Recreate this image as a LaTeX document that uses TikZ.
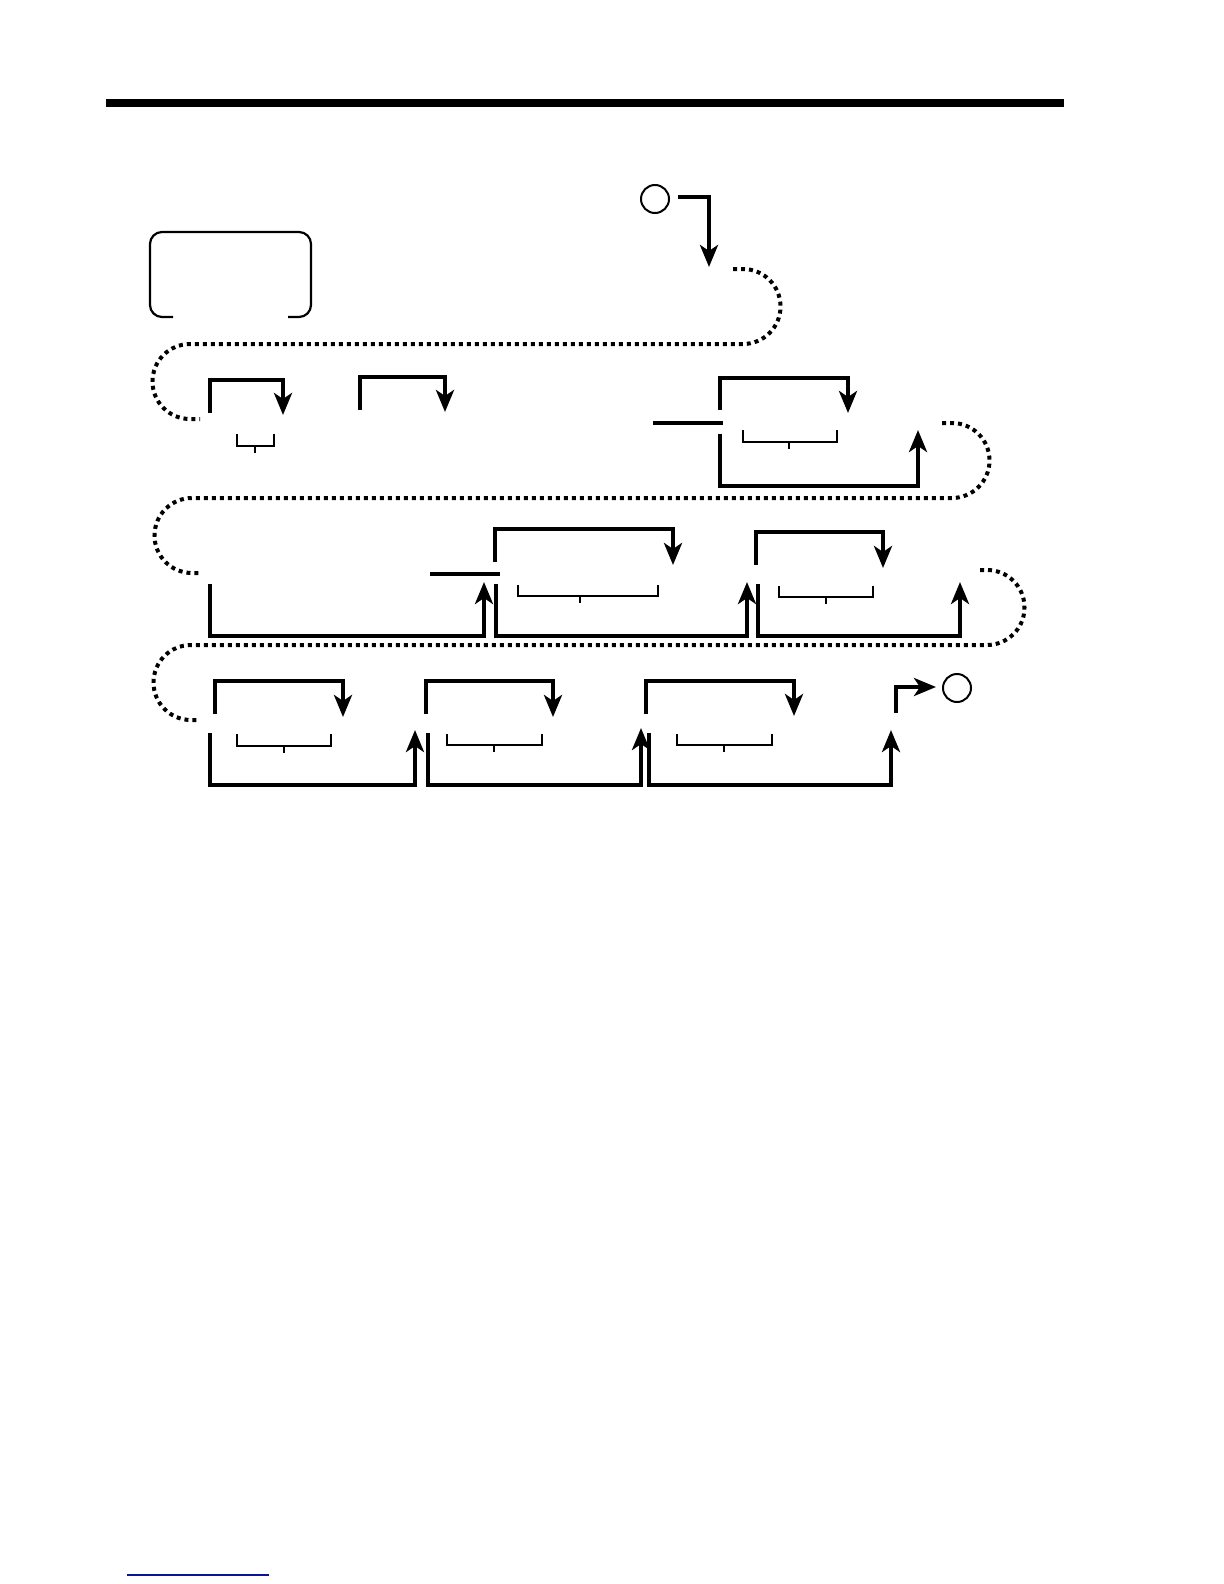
\documentclass[tikz,border=0pt]{standalone}
\usetikzlibrary{arrows.meta}
\definecolor{navyline}{RGB}{10,20,150}
\tikzset{
  flow/.style={line width=2pt,-{Stealth[length=11pt,width=9pt,inset=3pt]}},
  plainflow/.style={line width=2pt},
  railgap/.style={line width=2pt,dash pattern=on 2pt off 2pt},
  bracketline/.style={line width=0.8pt},
  terminal/.style={circle,draw,line width=1pt,minimum size=14pt,inner sep=0pt},
}
\newcommand{\brk}[5]{% x1, x2, top, bottom, tick-x ; tick to bottom+7
  \draw[bracketline] (#1,#3) -- (#1,#4) -- (#2,#4) -- (#2,#3);
  \draw[bracketline] (#5,#4) -- (#5,#4+7);
}
\begin{document}
\begin{tikzpicture}[x=0.5pt,y=-0.5pt]
\useasboundingbox (0,0) rectangle (1224,1584);
% header bar
\draw[line width=4pt] (106,103) coordinate (barL) -- (1064,103) coordinate (barR);
% footer line
\draw[navyline,line width=0.7pt] (127,1575) coordinate (footL) -- (269,1575) coordinate (footR);
% rounded box (open at the bottom)
\draw[line width=1.1pt,rounded corners=6pt] (173,317) -- (150,317) -- (150,232) -- (311,232) -- (311,317) -- (288,317);
% entry
\node[terminal] (start) at (655,199) {};
\coordinate (entryEnd) at (709,267);
\draw[flow] ([xshift=4pt,yshift=1pt]start.east) -| (entryEnd);
% dotted continuations
\draw[railgap] (733,269) -- (743,269) arc(90:-90:18.75pt) -- (190,344) arc(90:270:18.75pt) -- (200,419);
\draw[railgap] (942,423) -- (952,423) arc(90:-90:18.75pt) -- (192,498) arc(90:270:18.75pt) -- (200,573);
\draw[railgap] (980,570) -- (987,570) arc(90:-90:18.75pt) -- (191,645) arc(90:270:18.75pt) -- (198,720);
% ---- row 1
\draw[flow] (210,413) coordinate (r1a) |- (283,380) -- (283,415);
\brk{237}{274}{434}{446}{255}
\draw[flow] (360,410) coordinate (r1b) |- (445,377) -- (445,412);
\draw[plainflow] (653,423) coordinate (s1L) -- (723,423) coordinate (s1R);
\draw[flow] (720,410) coordinate (r1c) |- (848,378) -- (848,413);
\brk{743}{837}{430}{442}{789}
\draw[flow] (720,434) coordinate (r1d) |- (918,486) -- (918,430);
% ---- row 2
\draw[flow] (210,584) coordinate (r2a) |- (484,636) -- (484,582);
\draw[plainflow] (430,574) coordinate (s2L) -- (500,574) coordinate (s2R);
\draw[flow] (495,562) coordinate (r2b) |- (673,529) -- (673,565);
\brk{518}{658}{585}{596}{580}
\draw[flow] (496,584) coordinate (r2c) |- (747,636) -- (747,582);
\draw[flow] (756,565) coordinate (r2d) |- (883,532) -- (883,568);
\brk{779}{873}{586}{597}{826}
\draw[flow] (758,584) coordinate (r2e) |- (960,636) -- (960,582);
% ---- row 3
\draw[flow] (215,714) coordinate (r3a) |- (343,681) -- (343,717);
\brk{237}{331}{734}{746}{284}
\draw[flow] (210,733) coordinate (r3b) |- (415,785) -- (415,730);
\draw[flow] (426,714) coordinate (r3c) |- (553,681) -- (553,717);
\brk{447}{542}{734}{745}{494}
\draw[flow] (428,733) coordinate (r3d) |- (641,785) -- (641,728);
\draw[flow] (646,714) coordinate (r3e) |- (794,681) -- (794,716);
\brk{677}{772}{734}{745}{724}
\draw[flow] (649,733) coordinate (r3f) |- (891,785) -- (891,730);
% exit
\node[terminal] (stop) at (957,688) {};
\coordinate (exitStart) at (896,713);
\draw[flow] (exitStart) |- ([xshift=-3pt,yshift=0.5pt]stop.west);
\end{tikzpicture}
\end{document}
